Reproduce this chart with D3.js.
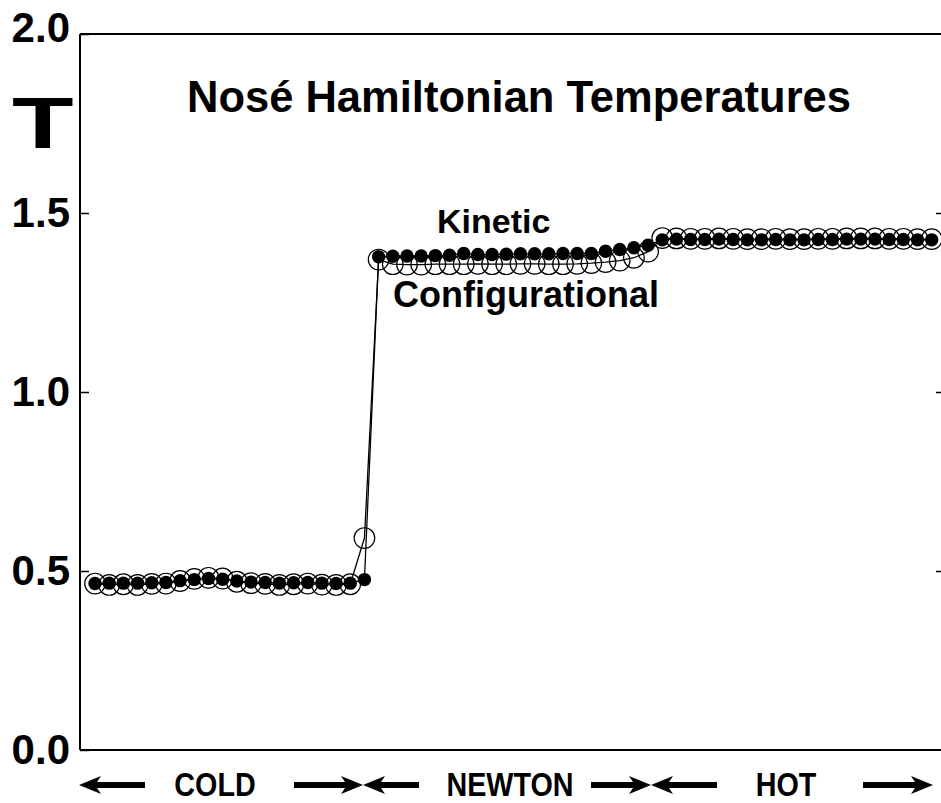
<!DOCTYPE html>
<html>
<head>
<meta charset="utf-8">
<script src="https://cdn.jsdelivr.net/npm/d3@7"></script>
<style>
  html, body { margin: 0; padding: 0; background: #fff; }
  svg { display: block; font-family: "Liberation Sans", Arial, sans-serif; font-weight: bold; }
</style>
</head>
<body>
<svg id="chart" width="941" height="803"></svg>
<script>
// ---- data ----
const title = "Nosé Hamiltonian Temperatures";
const yLabel = "T";
const yTicks = [0.0, 0.5, 1.0, 1.5, 2.0];
const sections = ["COLD", "NEWTON", "HOT"];
const kinetic = [
  0.465, 0.466, 0.466, 0.466, 0.467, 0.468, 0.473, 0.476, 0.479, 0.477,
  0.472, 0.469, 0.468, 0.466, 0.467, 0.468, 0.466, 0.465, 0.466, 0.476,
  1.378, 1.379, 1.380, 1.380, 1.381, 1.382, 1.387, 1.384, 1.384, 1.385,
  1.386, 1.386, 1.386, 1.387, 1.387, 1.387, 1.393, 1.398, 1.403, 1.410,
  1.425, 1.427, 1.426, 1.426, 1.427, 1.426, 1.425, 1.425, 1.426, 1.425,
  1.425, 1.426, 1.426, 1.427, 1.427, 1.427, 1.426, 1.426, 1.425, 1.425
];
const configurational = [
  0.465, 0.461, 0.463, 0.461, 0.464, 0.465, 0.472, 0.478, 0.481, 0.479,
  0.470, 0.466, 0.464, 0.461, 0.463, 0.465, 0.462, 0.461, 0.463, 0.592,
  1.370, 1.357, 1.356, 1.356, 1.357, 1.357, 1.357, 1.358, 1.357, 1.357,
  1.358, 1.358, 1.357, 1.357, 1.358, 1.360, 1.363, 1.367, 1.375, 1.392,
  1.430, 1.429, 1.428, 1.428, 1.429, 1.428, 1.427, 1.427, 1.428, 1.427,
  1.427, 1.428, 1.428, 1.429, 1.429, 1.429, 1.428, 1.428, 1.427, 1.427
];
const seriesLabels = ["Kinetic", "Configurational"];

// ---- layout ----
const svg = d3.select("#chart");
const L = 80, R = 945, T0 = 34, B = 750;
const x = d3.scaleLinear().domain([0, kinetic.length - 1]).range([95, 931.7]);
const y = d3.scaleLinear().domain([0, 2]).range([B, T0]);

// frame
const frame = svg.append("g").attr("stroke", "#000").attr("stroke-width", 2).attr("fill", "none");
frame.append("line").attr("x1", L).attr("x2", L).attr("y1", T0).attr("y2", B);
frame.append("line").attr("x1", L).attr("x2", 941).attr("y1", T0).attr("y2", T0);
frame.append("line").attr("x1", L).attr("x2", 941).attr("y1", B).attr("y2", B);

// left axis
const yAxis = d3.axisLeft(y).tickValues(yTicks).tickFormat(d3.format(".1f"))
  .tickSizeInner(-9).tickSizeOuter(0).tickPadding(10);
const gy = svg.append("g").attr("transform", `translate(${L},0)`).call(yAxis);
gy.select(".domain").remove();
gy.selectAll(".tick line").attr("stroke", "#000").attr("stroke-width", 1.5);
gy.selectAll(".tick text").attr("font-size", 42).attr("font-weight", "bold")
  .attr("font-family", '"Liberation Sans", Arial, sans-serif').attr("fill", "#000")
  .attr("dy", d => d === 2 ? "0.17em" : "0.33em");

// right axis ticks
const yAxisR = d3.axisRight(y).tickValues([0.5, 1.0, 1.5]).tickFormat("")
  .tickSizeInner(-9).tickSizeOuter(0);
const gr = svg.append("g").attr("transform", `translate(${R},0)`).call(yAxisR);
gr.select(".domain").remove();
gr.selectAll(".tick line").attr("stroke", "#000").attr("stroke-width", 1.5);

// T label
svg.append("text").text(yLabel).attr("transform", "translate(12,148) scale(1.4,1)")
  .attr("font-size", 72).attr("font-weight", "bold");

// title
svg.append("text").text(title).attr("x", 187).attr("y", 112)
  .attr("font-size", 43.5).attr("font-weight", "bold");

// series
const line = d3.line().x((d, i) => x(i)).y(d => y(d));
svg.append("g").selectAll("circle").data(configurational).join("circle")
  .attr("cx", (d, i) => x(i)).attr("cy", d => y(d)).attr("r", 10.3)
  .attr("fill", "none").attr("stroke", "#000").attr("stroke-width", 1.2);
svg.append("path").datum(configurational).attr("d", line)
  .attr("fill", "none").attr("stroke", "#000").attr("stroke-width", 1.3);
svg.append("path").datum(kinetic).attr("d", line)
  .attr("fill", "none").attr("stroke", "#000").attr("stroke-width", 1.3);
svg.append("g").selectAll("circle").data(kinetic).join("circle")
  .attr("cx", (d, i) => x(i)).attr("cy", d => y(d)).attr("r", 6.7)
  .attr("fill", "#000");

// series labels
svg.append("text").text(seriesLabels[0]).attr("x", 437).attr("y", 233)
  .attr("font-size", 34).attr("font-weight", "bold");
svg.append("text").text(seriesLabels[1]).attr("x", 393).attr("y", 307)
  .attr("font-size", 36).attr("font-weight", "bold");

// bottom section labels with arrows
const ay = 785;
function arrow(tip, tail) {
  const d = Math.sign(tip - tail), h = 22;
  const g = svg.append("g").attr("fill", "#000");
  g.append("rect").attr("x", Math.min(tail, tip - d * (h - 6))).attr("y", ay - 3)
    .attr("width", Math.abs(tip - d * (h - 6) - tail)).attr("height", 6);
  g.append("path").attr("d",
    `M${tip},${ay} L${tip - d * h},${ay - 9} L${tip - d * (h - 6)},${ay} L${tip - d * h},${ay + 9} Z`);
}
const secLayout = [
  { cx: 215, arrows: [[79, 145], [363, 294]] },
  { cx: 510, arrows: [[363, 419], [651, 591]] },
  { cx: 786, arrows: [[651, 717], [933, 863]] }
];
sections.forEach((s, i) => {
  const lay = secLayout[i];
  svg.append("text").text(s).attr("text-anchor", "middle")
    .attr("transform", `translate(${lay.cx},796) scale(0.87,1)`)
    .attr("font-size", 33).attr("font-weight", "bold");
  lay.arrows.forEach(a => arrow(a[0], a[1]));
});
</script>
</body>
</html>
